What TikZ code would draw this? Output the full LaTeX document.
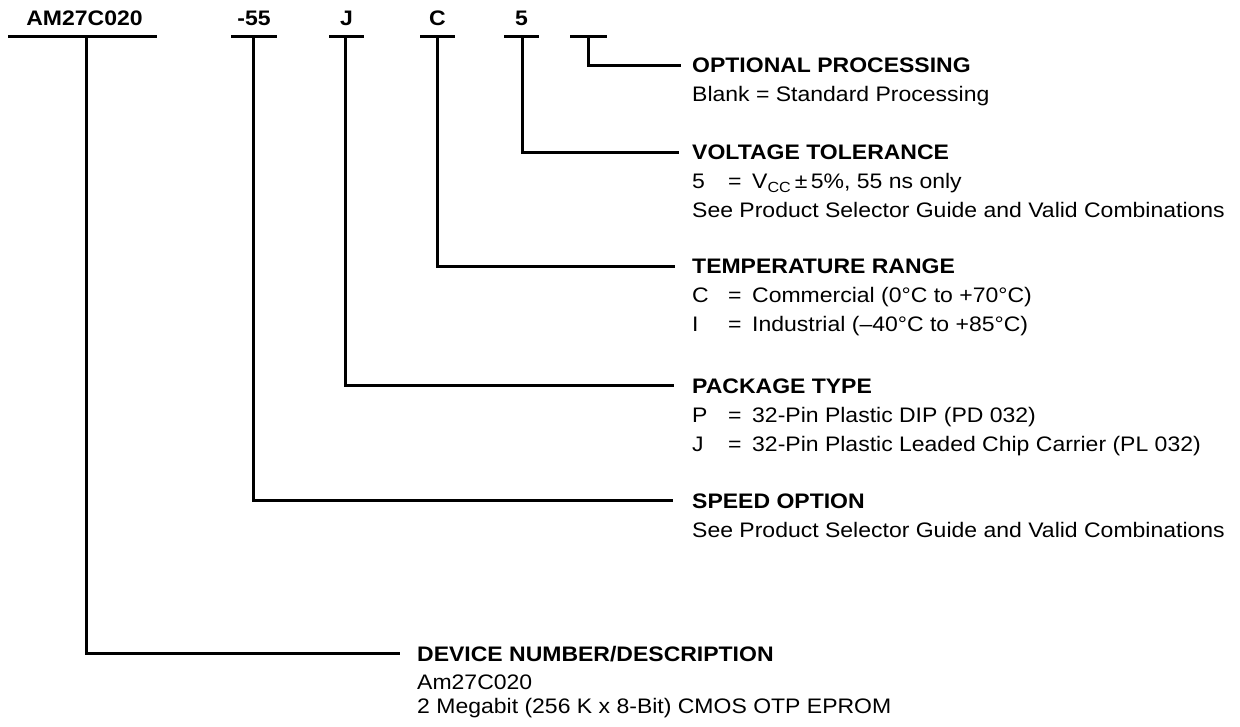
\documentclass[tikz,border=0pt]{standalone}
\usepackage{fontspec}
\setmainfont{Liberation Sans}[FakeStretch=1.095]
\begin{document}
\fontsize{21}{29}\selectfont
\begin{tikzpicture}[x=1pt,y=-1pt,
  code/.style={font=\bfseries, inner sep=0pt, anchor=base},
  head/.style={font=\bfseries, inner sep=0pt, anchor=base west, text height=15pt, text depth=0pt},
  body/.style={inner sep=0pt, anchor=base west},
  rule/.style={line width=3pt},
  conn/.style={line width=3pt, line join=miter}]
\useasboundingbox (0,0) rectangle (1240,727);

% part number codes
\node[code] (cAM) at (84.5,26) {AM27C020};
\node[code] (c55) at (254,26) {-55};
\node[code] (cJ)  at (346.5,26) {J};
\node[code] (cC)  at (437.5,26) {C};
\node[code] (c5)  at (521.5,26) {5};

% underlines
\draw[rule] (8,37) -- (157,37);
\draw[rule] (231,37) -- (277,37);
\draw[rule] (329,37) -- (364,37);
\draw[rule] (420,37) -- (455,37);
\draw[rule] (504,37) -- (539,37);
\draw[rule] (570,37) -- (607,37);

\coordinate (tAM) at (86,37);
\coordinate (t55) at (253,37);
\coordinate (tJ)  at (345,37);
\coordinate (tC)  at (437,37);
\coordinate (t5)  at (522,37);
\coordinate (tO)  at (588,37);

% headings and descriptions
\node[head] (hO) at (692,73) {OPTIONAL PROCESSING};
\node[body] (bO1) at (692,102) {Blank = Standard Processing};

\node[head] (hV) at (692,160) {VOLTAGE TOLERANCE};
\node[body] (bV1) at (692,189) {\makebox[36pt][l]{5}\makebox[24pt][l]{=}V\textsubscript{CC}\,±\,5\%, 55 ns only};
\node[body] (bV2) at (692,218) {See Product Selector Guide and Valid Combinations};

\node[head] (hT) at (692,274) {TEMPERATURE RANGE};
\node[body] (bT1) at (692,303) {\makebox[36pt][l]{C}\makebox[24pt][l]{=}Commercial (0°C to +70°C)};
\node[body] (bT2) at (692,332) {\makebox[36pt][l]{I}\makebox[24pt][l]{=}Industrial (–40°C to +85°C)};

\node[head] (hP) at (692,393) {PACKAGE TYPE};
\node[body] (bP1) at (692,422) {\makebox[36pt][l]{P}\makebox[24pt][l]{=}32-Pin Plastic DIP (PD 032)};
\node[body] (bP2) at (692,451) {\makebox[36pt][l]{J}\makebox[24pt][l]{=}32-Pin Plastic Leaded Chip Carrier (PL 032)};

\node[head] (hS) at (692,508) {SPEED OPTION};
\node[body] (bS1) at (692,537) {See Product Selector Guide and Valid Combinations};

\node[head] (hD) at (417,661) {DEVICE NUMBER/DESCRIPTION};
\node[body] (bD1) at (417,689) {Am27C020};
\node[body] (bD2) at (417,713) {2 Megabit (256 K x 8-Bit) CMOS OTP EPROM};

% connectors
\draw[conn] (tO)  |- ([xshift=-11pt]hO.west);
\draw[conn] (t5)  |- ([xshift=-13pt]hV.west);
\draw[conn] (tC)  |- ([xshift=-17pt]hT.west);
\draw[conn] (tJ)  |- ([xshift=-18pt]hP.west);
\draw[conn] (t55) |- ([xshift=-19pt]hS.west);
\draw[conn] (tAM) |- ([xshift=-17pt]hD.west);
\end{tikzpicture}
\end{document}
